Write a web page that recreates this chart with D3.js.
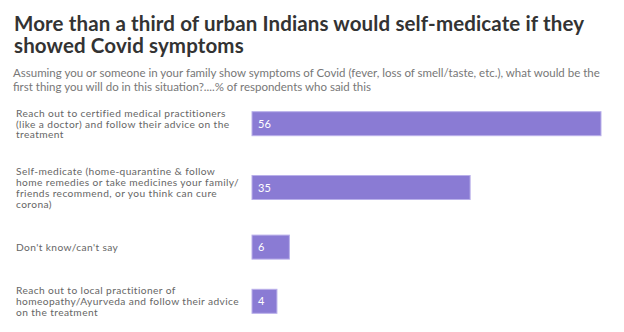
<!DOCTYPE html>
<html>
<head>
<meta charset="utf-8">
<script src="https://cdn.jsdelivr.net/npm/d3@7"></script>
<style>
  body { margin: 0; background: #fff; }
  text { font-family: Lato, "Open Sans", sans-serif; }
</style>
</head>
<body>
<script>
var w = 624;
var h = 332;

var title = ["More than a third of urban Indians would self-medicate if they",
             "showed Covid symptoms"];
var subtitle = ["Assuming you or someone in your family show symptoms of Covid (fever, loss of smell/taste, etc.), what would be the",
                "first thing you will do in this situation?....% of respondents who said this"];

// line breaks kept as in the published chart
var categories = [
  "Reach out to certified medical practitioners\n(like a doctor) and follow their advice on the\ntreatment",
  "Self-medicate (home-quarantine & follow\nhome remedies or take medicines your family/\nfriends recommend, or you think can cure\ncorona)",
  "Don't know/can't say",
  "Reach out to local practitioner of\nhomeopathy/Ayurveda and follow their advice\non the treatment"
];
var values = [56, 35, 6, 4];

var barColor = "#8a7bd4";
var lineH = 10.8;
var barH = 24;
var gap = 26;

var svg = d3.select("body")
			.append("svg")
			.attr("width", w)
			.attr("height", h);

// title + subtitle
svg.selectAll("text.title")
	.data(title)
	.enter()
	.append("text")
	.attr("class", "title")
	.text(function(d){ return d; })
	.attr("x", 14)
	.attr("y", function(d, i){ return 31 + i * 22; })
	.attr("font-size", 20.5)
	.attr("letter-spacing", 0.12)
	.attr("font-weight", 700)
	.attr("fill", "#333");

svg.selectAll("text.sub")
	.data(subtitle)
	.enter()
	.append("text")
	.attr("class", "sub")
	.text(function(d){ return d; })
	.attr("x", 13)
	.attr("y", function(d, i){ return 76.5 + i * 14.5; })
	.attr("font-size", 11.5)
	.attr("fill", "#777");

var rows = [];
var rowTop = 107.5;
categories.forEach(function(c, i){
	var lines = c.split("\n");
	var rh = Math.max(lines.length * lineH, barH);
	rows.push({lines: lines, value: values[i], cy: rowTop + rh / 2});
	rowTop += rh + gap;
});

var x = d3.scaleLinear()
	.domain([0, d3.max(values)])
	.range([252, 601]);

var g = svg.selectAll("g.row")
	.data(rows)
	.enter()
	.append("g")
	.attr("class", "row");

g.append("rect")
	.attr("x", x(0))
	.attr("y", function(d){ return d.cy - barH / 2; })
	.attr("width", function(d){ return x(d.value) - x(0); })
	.attr("height", barH)
	.attr("fill", barColor)
	.attr("stroke", "#b9b0ea")
	.attr("stroke-width", 1);

g.append("text")
	.text(function(d){ return d.value; })
	.attr("x", x(0) + 6)
	.attr("y", function(d){ return d.cy + 4; })
	.attr("font-size", 11)
	.attr("fill", "#fff");

// category labels, one text per line
g.each(function(d){
	var n = d.lines.length;
	d3.select(this).selectAll("text.lab")
		.data(d.lines)
		.enter()
		.append("text")
		.attr("class", "lab")
		.text(function(t){ return t; })
		.attr("x", 16)
		.attr("y", function(t, i){ return d.cy - n * lineH / 2 + i * lineH + 9.2; })
		.attr("font-size", 10.2)
		.attr("letter-spacing", 0.4)
		.attr("fill", "#666");
});
</script>
</body>
</html>
